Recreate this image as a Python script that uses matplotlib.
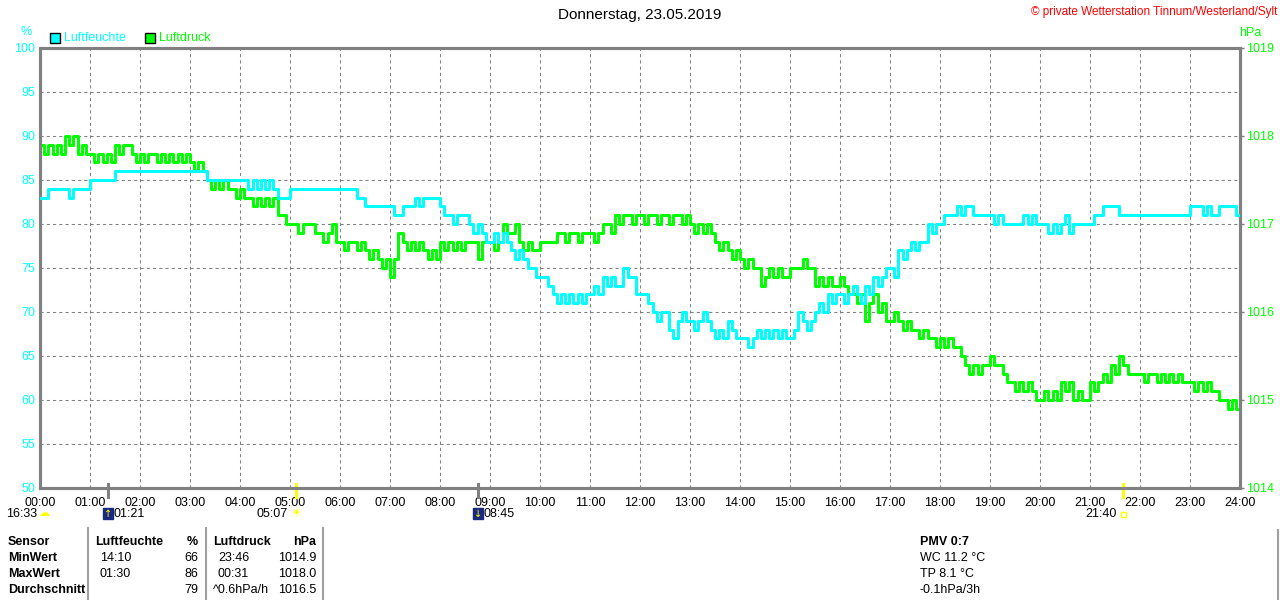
import matplotlib
matplotlib.use("Agg")
import matplotlib.pyplot as plt
from matplotlib.lines import Line2D
from matplotlib.patches import Rectangle
import numpy as np

TITLE = "Donnerstag, 23.05.2019"
COPYRIGHT = "© private Wetterstation Tinnum/Westerland/Sylt"

# 5-minute samples, one row per hour (00:00 ... 23:55) plus 24:00
humidity = [
    83, 83, 84, 84, 84, 84, 84, 83, 84, 84, 84, 84,  # 00
    85, 85, 85, 85, 85, 85, 86, 86, 86, 86, 86, 86,  # 01
    86, 86, 86, 86, 86, 86, 86, 86, 86, 86, 86, 86,  # 02
    86, 86, 86, 86, 85, 85, 85, 85, 85, 85, 85, 85,  # 03
    85, 85, 84, 85, 84, 85, 84, 85, 84, 83, 83, 83,  # 04
    84, 84, 84, 84, 84, 84, 84, 84, 84, 84, 84, 84,  # 05
    84, 84, 84, 84, 83, 83, 82, 82, 82, 82, 82, 82,  # 06
    82, 81, 81, 82, 82, 82, 83, 82, 83, 83, 83, 83,  # 07
    82, 81, 81, 80, 81, 81, 81, 80, 79, 80, 79, 78,  # 08
    78, 79, 78, 79, 78, 77, 76, 77, 76, 75, 75, 74,  # 09
    74, 74, 73, 72, 71, 72, 71, 72, 71, 72, 71, 72,  # 10
    72, 73, 72, 74, 73, 74, 73, 73, 75, 74, 74, 72,  # 11
    72, 72, 71, 70, 69, 70, 70, 68, 67, 69, 70, 69,  # 12
    69, 68, 69, 70, 69, 68, 67, 68, 67, 69, 68, 67,  # 13
    67, 67, 66, 67, 68, 67, 68, 67, 68, 67, 68, 67,  # 14
    67, 68, 70, 69, 68, 69, 70, 71, 70, 72, 71, 72,  # 15
    72, 71, 72, 73, 72, 71, 73, 72, 74, 73, 74, 75,  # 16
    75, 74, 77, 76, 77, 78, 77, 78, 78, 80, 79, 80,  # 17
    80, 81, 81, 81, 82, 81, 82, 82, 81, 81, 81, 81,  # 18
    81, 80, 81, 80, 80, 80, 80, 80, 81, 80, 81, 80,  # 19
    80, 80, 79, 80, 79, 80, 81, 79, 80, 80, 80, 80,  # 20
    80, 81, 81, 82, 82, 82, 82, 81, 81, 81, 81, 81,  # 21
    81, 81, 81, 81, 81, 81, 81, 81, 81, 81, 81, 81,  # 22
    82, 82, 82, 81, 82, 81, 81, 82, 82, 82, 82, 81,  # 23
    81,
]

pressure = [
    1017.9, 1017.8, 1017.9, 1017.8, 1017.9, 1017.8, 1018.0, 1017.9, 1018.0, 1017.8, 1017.9, 1017.8,  # 00
    1017.8, 1017.7, 1017.8, 1017.7, 1017.8, 1017.7, 1017.9, 1017.8, 1017.9, 1017.9, 1017.8, 1017.7,  # 01
    1017.8, 1017.7, 1017.8, 1017.8, 1017.7, 1017.8, 1017.7, 1017.8, 1017.7, 1017.8, 1017.7, 1017.8,  # 02
    1017.7, 1017.6, 1017.7, 1017.6, 1017.5, 1017.4, 1017.5, 1017.4, 1017.5, 1017.4, 1017.4, 1017.3,  # 03
    1017.4, 1017.3, 1017.3, 1017.2, 1017.3, 1017.2, 1017.3, 1017.2, 1017.3, 1017.1, 1017.1, 1017.0,  # 04
    1017.0, 1017.0, 1016.9, 1017.0, 1017.0, 1017.0, 1016.9, 1016.9, 1016.8, 1016.9, 1017.0, 1016.8,  # 05
    1016.8, 1016.7, 1016.8, 1016.8, 1016.7, 1016.8, 1016.7, 1016.6, 1016.7, 1016.6, 1016.5, 1016.6,  # 06
    1016.4, 1016.6, 1016.9, 1016.8, 1016.7, 1016.8, 1016.7, 1016.8, 1016.7, 1016.6, 1016.7, 1016.6,  # 07
    1016.8, 1016.7, 1016.8, 1016.7, 1016.8, 1016.7, 1016.8, 1016.8, 1016.8, 1016.6, 1016.8, 1016.8,  # 08
    1016.8, 1016.7, 1016.8, 1017.0, 1016.9, 1016.9, 1017.0, 1016.8, 1016.7, 1016.8, 1016.7, 1016.7,  # 09
    1016.8, 1016.8, 1016.8, 1016.8, 1016.9, 1016.9, 1016.8, 1016.9, 1016.9, 1016.8, 1016.9, 1016.9,  # 10
    1016.9, 1016.8, 1016.9, 1017.0, 1017.0, 1016.9, 1017.1, 1017.0, 1017.1, 1017.1, 1017.0, 1017.1,  # 11
    1017.1, 1017.0, 1017.1, 1017.1, 1017.0, 1017.1, 1017.1, 1017.0, 1017.1, 1017.1, 1017.0, 1017.1,  # 12
    1017.0, 1016.9, 1017.0, 1016.9, 1017.0, 1016.9, 1016.8, 1016.7, 1016.8, 1016.7, 1016.6, 1016.7,  # 13
    1016.6, 1016.5, 1016.6, 1016.5, 1016.5, 1016.3, 1016.4, 1016.5, 1016.4, 1016.5, 1016.4, 1016.4,  # 14
    1016.5, 1016.5, 1016.5, 1016.6, 1016.5, 1016.5, 1016.3, 1016.4, 1016.3, 1016.4, 1016.3, 1016.3,  # 15
    1016.4, 1016.3, 1016.2, 1016.2, 1016.1, 1016.2, 1015.9, 1016.1, 1016.2, 1016.0, 1016.1, 1015.9,  # 16
    1015.9, 1016.0, 1015.9, 1015.8, 1015.9, 1015.8, 1015.8, 1015.7, 1015.8, 1015.7, 1015.7, 1015.6,  # 17
    1015.7, 1015.6, 1015.7, 1015.6, 1015.6, 1015.5, 1015.4, 1015.3, 1015.4, 1015.3, 1015.4, 1015.4,  # 18
    1015.5, 1015.4, 1015.4, 1015.3, 1015.2, 1015.2, 1015.1, 1015.2, 1015.1, 1015.2, 1015.1, 1015.0,  # 19
    1015.0, 1015.1, 1015.0, 1015.1, 1015.0, 1015.2, 1015.1, 1015.2, 1015.0, 1015.1, 1015.0, 1015.0,  # 20
    1015.2, 1015.1, 1015.2, 1015.3, 1015.2, 1015.4, 1015.3, 1015.5, 1015.4, 1015.3, 1015.3, 1015.3,  # 21
    1015.3, 1015.2, 1015.3, 1015.3, 1015.2, 1015.3, 1015.2, 1015.3, 1015.2, 1015.3, 1015.2, 1015.2,  # 22
    1015.2, 1015.1, 1015.2, 1015.1, 1015.2, 1015.1, 1015.1, 1015.0, 1015.0, 1014.9, 1015.0, 1014.9,  # 23
    1014.9,
]

hour_labels = [f"{h:02d}:00" for h in range(25)]
hum_ticks = [50, 55, 60, 65, 70, 75, 80, 85, 90, 95, 100]
pres_ticks = [1014, 1015, 1016, 1017, 1018, 1019]

# moon / sun events: (hour, label, colour of the axis mark)
events = [(1 + 21 / 60, "01:21", "#808080"), (5 + 7 / 60, "05:07", "#ffff00"),
          (8 + 45 / 60, "08:45", "#808080"), (21 + 40 / 60, "21:40", "#ffff00")]

table_head = ["Sensor", "Luftfeuchte", "%", "Luftdruck", "hPa"]
table_rows = [
    ["MinWert", "14:10", "66", "23:46", "1014.9"],
    ["MaxWert", "01:30", "86", "00:31", "1018.0"],
    ["Durchschnitt", "", "79", "^0.6hPa/h", "1016.5"],
]
extra_lines = ["PMV 0:7", "WC 11.2 °C", "TP 8.1 °C", "-0.1hPa/3h"]

CYAN = "#00ffff"
GREEN = "#00ff00"
GRAY = "#808080"

plt.rcParams["font.family"] = ["Liberation Sans", "DejaVu Sans"]

W, H = 1280, 600


def fx(x):
    return x / W


def fy(y):
    return 1 - y / H


fig = plt.figure(figsize=(12.8, 6.0), dpi=100)
ax_p = fig.add_axes([fx(40), fy(488), 1200 / W, 440 / H])
ax_h = ax_p.twinx()

t = np.arange(len(humidity)) / 12.0

ax_p.plot(t, pressure, color=GREEN, lw=2.2, drawstyle="steps-post", zorder=3)
ax_h.plot(t, humidity, color=CYAN, lw=2.2, drawstyle="steps-post", zorder=3)

ax_p.set_xlim(0, 24)
ax_p.set_ylim(1014, 1019)
ax_h.set_ylim(50, 100)

ax_p.set_xticks(range(25))
ax_p.set_xticklabels(hour_labels)
ax_p.set_yticks(pres_ticks)
ax_p.set_yticklabels([str(v) for v in pres_ticks])
ax_p.set_yticks(np.arange(1014.5, 1019, 1.0), minor=True)
ax_h.set_yticks(hum_ticks)
ax_h.set_yticklabels([str(v) for v in hum_ticks])

ax_p.yaxis.tick_right()
ax_h.yaxis.tick_left()

ax_p.grid(True, which="both", color=GRAY, lw=0.75, linestyle=(0, (3, 3)))
ax_p.tick_params(axis="x", length=0, pad=6.5, labelsize=9, labelcolor="black")
ax_p.tick_params(axis="y", which="major", length=3, width=1, color=GRAY,
                 pad=1.5, labelsize=9, labelcolor=GREEN)
ax_p.tick_params(axis="y", which="minor", length=0)
ax_h.tick_params(axis="y", length=0, pad=3.5, labelsize=9, labelcolor=CYAN)

for a in (ax_p, ax_h):
    for side in ("left", "right", "top", "bottom"):
        a.spines[side].set_color(GRAY)
        a.spines[side].set_linewidth(2.2)

# marks for moon/sun events across the bottom axis
for hr, lab, col in events:
    ax_p.plot([hr, hr], [0.009, -0.021], color=col, lw=2.2,
              transform=ax_p.get_xaxis_transform(), clip_on=False, zorder=5)

# header texts
fig.text(0.5, fy(15), TITLE, ha="center", va="center", fontsize=11)
fig.text(fx(1277), fy(12), COPYRIGHT, ha="right", va="center", fontsize=8.5,
         color="#ff0000")
fig.text(fx(26), fy(32), "%", ha="center", va="center", fontsize=9, color=CYAN)
fig.text(fx(1250), fy(33), "hPa", ha="center", va="center", fontsize=9,
         color=GREEN)

# legend
for x0, col, lab in [(50, CYAN, "Luftfeuchte"), (145, GREEN, "Luftdruck")]:
    fig.add_artist(Rectangle((fx(x0), fy(43)), 10 / W, 10 / H, facecolor=col,
                             edgecolor="black", lw=1, transform=fig.transFigure))
    fig.text(fx(x0 + 14), fy(38), lab, ha="left", va="center", fontsize=9,
             color=col)

# moon / sun annotations under the time axis
fig.text(fx(37), fy(514), "16:33", ha="right", va="center", fontsize=9)
fig.text(fx(44), fy(513), "\u2601", ha="center", va="center", fontsize=8,
         color="#ffff00", family="DejaVu Sans")
fig.add_artist(Rectangle((fx(103), fy(519)), 10 / W, 11 / H, facecolor="#1a2a80",
                         edgecolor="#1a2a80", transform=fig.transFigure))
fig.text(fx(108), fy(514), "\u2191", ha="center", va="center", fontsize=7,
         color="#ffff00", family="DejaVu Sans")
fig.text(fx(114), fy(514), events[0][1], ha="left", va="center", fontsize=9)
fig.text(fx(288), fy(514), events[1][1], ha="right", va="center", fontsize=9)
fig.text(fx(297), fy(514), "\u2600", ha="center", va="center", fontsize=9,
         color="#ffff00", family="DejaVu Sans")
fig.add_artist(Rectangle((fx(473), fy(519)), 10 / W, 11 / H, facecolor="#1a2a80",
                         edgecolor="#1a2a80", transform=fig.transFigure))
fig.text(fx(478), fy(514), "\u2193", ha="center", va="center", fontsize=7,
         color="#ffff00", family="DejaVu Sans")
fig.text(fx(484), fy(514), events[2][1], ha="left", va="center", fontsize=9)
fig.text(fx(1117), fy(514), events[3][1], ha="right", va="center", fontsize=9)
fig.add_artist(Rectangle((fx(1121), fy(517)), 5 / W, 5 / H, facecolor="none",
                         edgecolor="#ffff00", lw=1, transform=fig.transFigure))

# statistics table
for xs in (88, 206, 323):
    fig.add_artist(Line2D([fx(xs), fx(xs)], [fy(528), fy(600)], color="#a0a0a0",
                          lw=1.5, transform=fig.transFigure))
fig.add_artist(Line2D([fx(1278), fx(1278)], [fy(530), fy(600)], color="#a0a0a0",
                      lw=1.5, transform=fig.transFigure))

row_y = [542, 558, 574, 590]
col_x = [(8, "left"), (95, "left"), (198, "right"), (213, "left"), (316, "right")]
for i, txt in enumerate(table_head):
    fig.text(fx(col_x[i][0]), fy(row_y[0]), txt, ha=col_x[i][1], va="center",
             fontsize=9, fontweight="bold")
data_x = [(8, "left"), (100, "left"), (198, "right"), (218, "left"), (316, "right")]
for r, row in enumerate(table_rows):
    for i, txt in enumerate(row):
        x, ha = data_x[i]
        if r == 2 and i == 3:
            x = 213
        fig.text(fx(x), fy(row_y[r + 1]), txt, ha=ha, va="center", fontsize=9,
                 fontweight="bold" if i == 0 else "normal")
for r, txt in enumerate(extra_lines):
    fig.text(fx(920), fy(row_y[r]), txt, ha="left", va="center", fontsize=9,
             fontweight="bold" if r == 0 else "normal")

fig.savefig("out.png", dpi=100)
